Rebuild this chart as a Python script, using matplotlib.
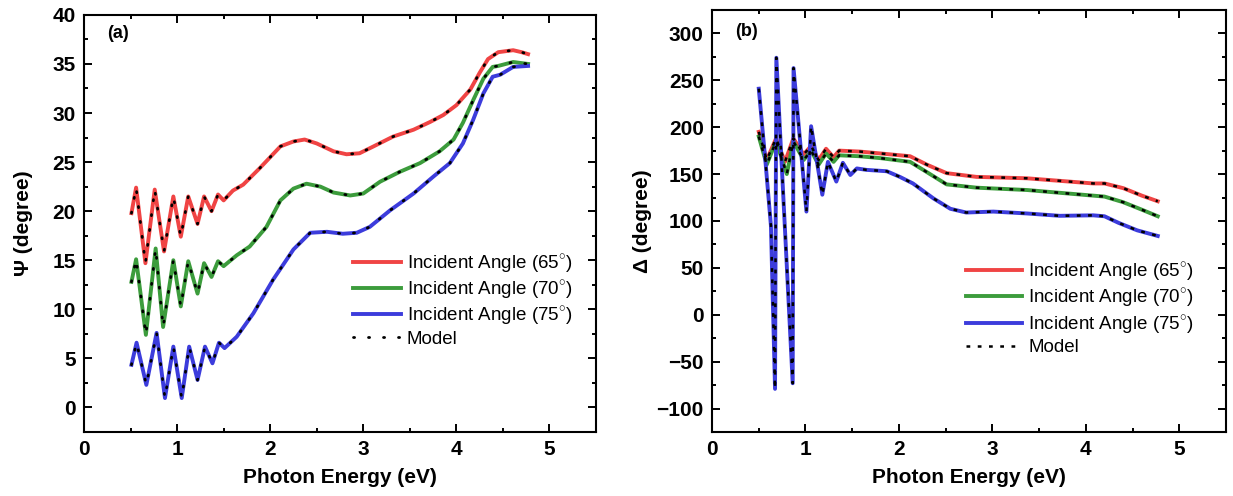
import matplotlib
matplotlib.use("Agg")
import matplotlib.pyplot as plt
from matplotlib.ticker import MultipleLocator

plt.rcParams['font.family'] = ['Liberation Sans', 'DejaVu Sans']
plt.rcParams['mathtext.fontset'] = 'custom'
plt.rcParams['mathtext.rm'] = 'Liberation Sans'

# ---- panel (a): Psi ----
psi_x_65 = [0.51, 0.56, 0.66, 0.76, 0.86, 0.96, 1.04, 1.12, 1.22, 1.29, 1.37, 1.44, 1.50,
            1.60, 1.71, 1.89, 2.11, 2.25, 2.37, 2.50, 2.68, 2.82, 2.96, 3.11, 3.32, 3.54,
            3.72, 3.86, 4.00, 4.15, 4.25, 4.34, 4.45, 4.61, 4.70, 4.77]
psi_y_65 = [19.8, 22.4, 14.7, 22.2, 15.9, 21.5, 17.4, 21.5, 18.7, 21.5, 20.0, 21.7, 21.1,
            22.1, 22.7, 24.4, 26.6, 27.1, 27.3, 26.9, 26.1, 25.8, 25.9, 26.6, 27.6, 28.3,
            29.1, 29.8, 30.8, 32.4, 34.1, 35.5, 36.2, 36.4, 36.2, 36.0]

psi_x_70 = [0.51, 0.56, 0.665, 0.77, 0.85, 0.96, 1.04, 1.12, 1.22, 1.29, 1.37, 1.44, 1.50,
            1.64, 1.78, 1.96, 2.11, 2.25, 2.39, 2.54, 2.68, 2.86, 3.00, 3.18, 3.39, 3.61,
            3.82, 3.97, 4.07, 4.18, 4.29, 4.39, 4.45, 4.61, 4.77]
psi_y_70 = [12.8, 15.1, 7.4, 16.2, 8.2, 15.0, 10.3, 14.9, 11.6, 14.7, 13.3, 14.9, 14.4,
            15.5, 16.4, 18.4, 21.1, 22.3, 22.8, 22.5, 21.9, 21.6, 21.8, 23.0, 24.0, 24.9,
            26.1, 27.3, 29.0, 31.3, 33.5, 34.7, 34.8, 35.2, 35.0]

psi_x_75 = [0.51, 0.565, 0.67, 0.78, 0.87, 0.96, 1.05, 1.13, 1.22, 1.30, 1.38, 1.45, 1.51,
            1.64, 1.82, 2.03, 2.25, 2.43, 2.61, 2.78, 2.93, 3.07, 3.29, 3.54, 3.75, 3.93,
            4.07, 4.18, 4.29, 4.39, 4.47, 4.61, 4.77]
psi_y_75 = [4.35, 6.6, 2.3, 7.6, 0.96, 6.2, 0.96, 6.2, 2.8, 6.2, 4.5, 6.6, 6.05,
            7.2, 9.6, 13.0, 16.1, 17.8, 17.9, 17.7, 17.8, 18.4, 20.1, 21.8, 23.5, 24.9,
            26.9, 29.3, 32.0, 33.7, 33.9, 34.7, 34.8]

# ---- panel (b): Delta ----
del_x_65 = [0.50, 0.585, 0.685, 0.78, 0.87, 0.98, 1.06, 1.14, 1.22, 1.30, 1.36, 1.58,
            1.80, 2.12, 2.30, 2.51, 2.83, 3.37, 4.08, 4.20, 4.40, 4.60, 4.77]
del_y_65 = [195, 165, 188, 163, 188, 171, 180, 165, 177, 168, 175, 174,
            172, 169, 160, 151, 147, 145.5, 140, 140, 135, 127, 121]

del_x_70 = [0.50, 0.585, 0.685, 0.80, 0.87, 0.98, 1.06, 1.14, 1.22, 1.30, 1.36, 1.58,
            1.80, 2.12, 2.30, 2.51, 2.83, 3.37, 4.08, 4.20, 4.40, 4.60, 4.77]
del_y_70 = [190, 160, 185, 150, 185, 165, 175, 160, 172, 163, 170, 169,
            167, 163, 152, 139, 135.5, 133, 127, 126, 120, 112, 105]

del_x_75 = [0.50, 0.57, 0.63, 0.674, 0.688, 0.863, 0.872, 1.01, 1.06, 1.18, 1.24, 1.33,
            1.40, 1.48, 1.55, 1.65, 1.87, 2.01, 2.15, 2.37, 2.55, 2.72, 3.01, 3.37,
            3.72, 4.08, 4.20, 4.35, 4.55, 4.77]
del_y_75 = [241, 165, 95, -79, 274, -73, 263, 110, 201, 128, 163, 142,
            162, 149, 156, 154.5, 153, 147, 140, 124, 113, 109, 110, 108,
            105.5, 106, 105, 98, 90, 84]

labels = ["Incident Angle (65$^{\\circ}$)", "Incident Angle (70$^{\\circ}$)",
          "Incident Angle (75$^{\\circ}$)"]
colores = ['#f04444', '#3c9c3c', '#3c3cdc']

fig = plt.figure(figsize=(12.33, 4.96), dpi=100)
axA = fig.add_axes([0.0681, 0.129, 0.4153, 0.841])
axB = fig.add_axes([0.5775, 0.129, 0.4168, 0.851])


def estilo(ax):
    for s in ax.spines.values():
        s.set_linewidth(1.5)
    ax.tick_params(which='both', direction='in', top=True, right=True, width=1.4)
    ax.tick_params(which='major', length=6, labelsize=15, pad=6)
    ax.tick_params(which='minor', length=3)
    for t in ax.get_xticklabels() + ax.get_yticklabels():
        t.set_fontweight('bold')
    ax.set_xlim(0, 5.5)
    ax.xaxis.set_major_locator(MultipleLocator(1))
    ax.xaxis.set_minor_locator(MultipleLocator(0.5))
    ax.set_xlabel("Photon Energy (eV)", fontsize=15, fontweight='bold', labelpad=6)


# panel a
datosA = [(psi_x_65, psi_y_65), (psi_x_70, psi_y_70), (psi_x_75, psi_y_75)]
for (xs, ys), c, lab in zip(datosA, colores, labels):
    axA.plot(xs, ys, color=c, lw=2.8, label=lab)
for i, (xs, ys) in enumerate(datosA):
    axA.plot(xs, ys, color='black', lw=2.0, linestyle=(0, (0.4, 5)),
             dash_capstyle='round', label='Model' if i == 0 else None)
axA.set_ylim(-2.5, 40)
axA.yaxis.set_major_locator(MultipleLocator(5))
axA.yaxis.set_minor_locator(MultipleLocator(2.5))
axA.set_ylabel("Ψ (degree)", fontsize=15, fontweight='bold', labelpad=14)
axA.text(0.045, 0.975, "(a)", transform=axA.transAxes, fontsize=13, fontweight='bold',
         va='top')
estilo(axA)
axA.legend(loc='upper left', bbox_to_anchor=(0.51, 0.45), frameon=False, fontsize=13.5,
           handlelength=2.6, handletextpad=0.3, labelspacing=0.18, borderaxespad=0)

# panel b
datosB = [(del_x_65, del_y_65), (del_x_70, del_y_70), (del_x_75, del_y_75)]
for (xs, ys), c, lab in zip(datosB, colores, labels):
    axB.plot(xs, ys, color=c, lw=2.8, label=lab)
for i, (xs, ys) in enumerate(datosB):
    axB.plot(xs, ys, color='black', lw=1.8, linestyle=(0, (1.5, 3)),
             label='Model' if i == 0 else None)
axB.set_ylim(-125, 325)
axB.yaxis.set_major_locator(MultipleLocator(50))
axB.yaxis.set_minor_locator(MultipleLocator(25))
axB.set_ylabel("Δ (degree)", fontsize=15, fontweight='bold', labelpad=3)
axB.text(0.045, 0.968, "(b)", transform=axB.transAxes, fontsize=13, fontweight='bold',
         va='top')
estilo(axB)
axB.legend(loc='upper left', bbox_to_anchor=(0.48, 0.425), frameon=False, fontsize=13.5,
           handlelength=3.0, handletextpad=0.3, labelspacing=0.18, borderaxespad=0)

fig.savefig("out.png", dpi=100)
